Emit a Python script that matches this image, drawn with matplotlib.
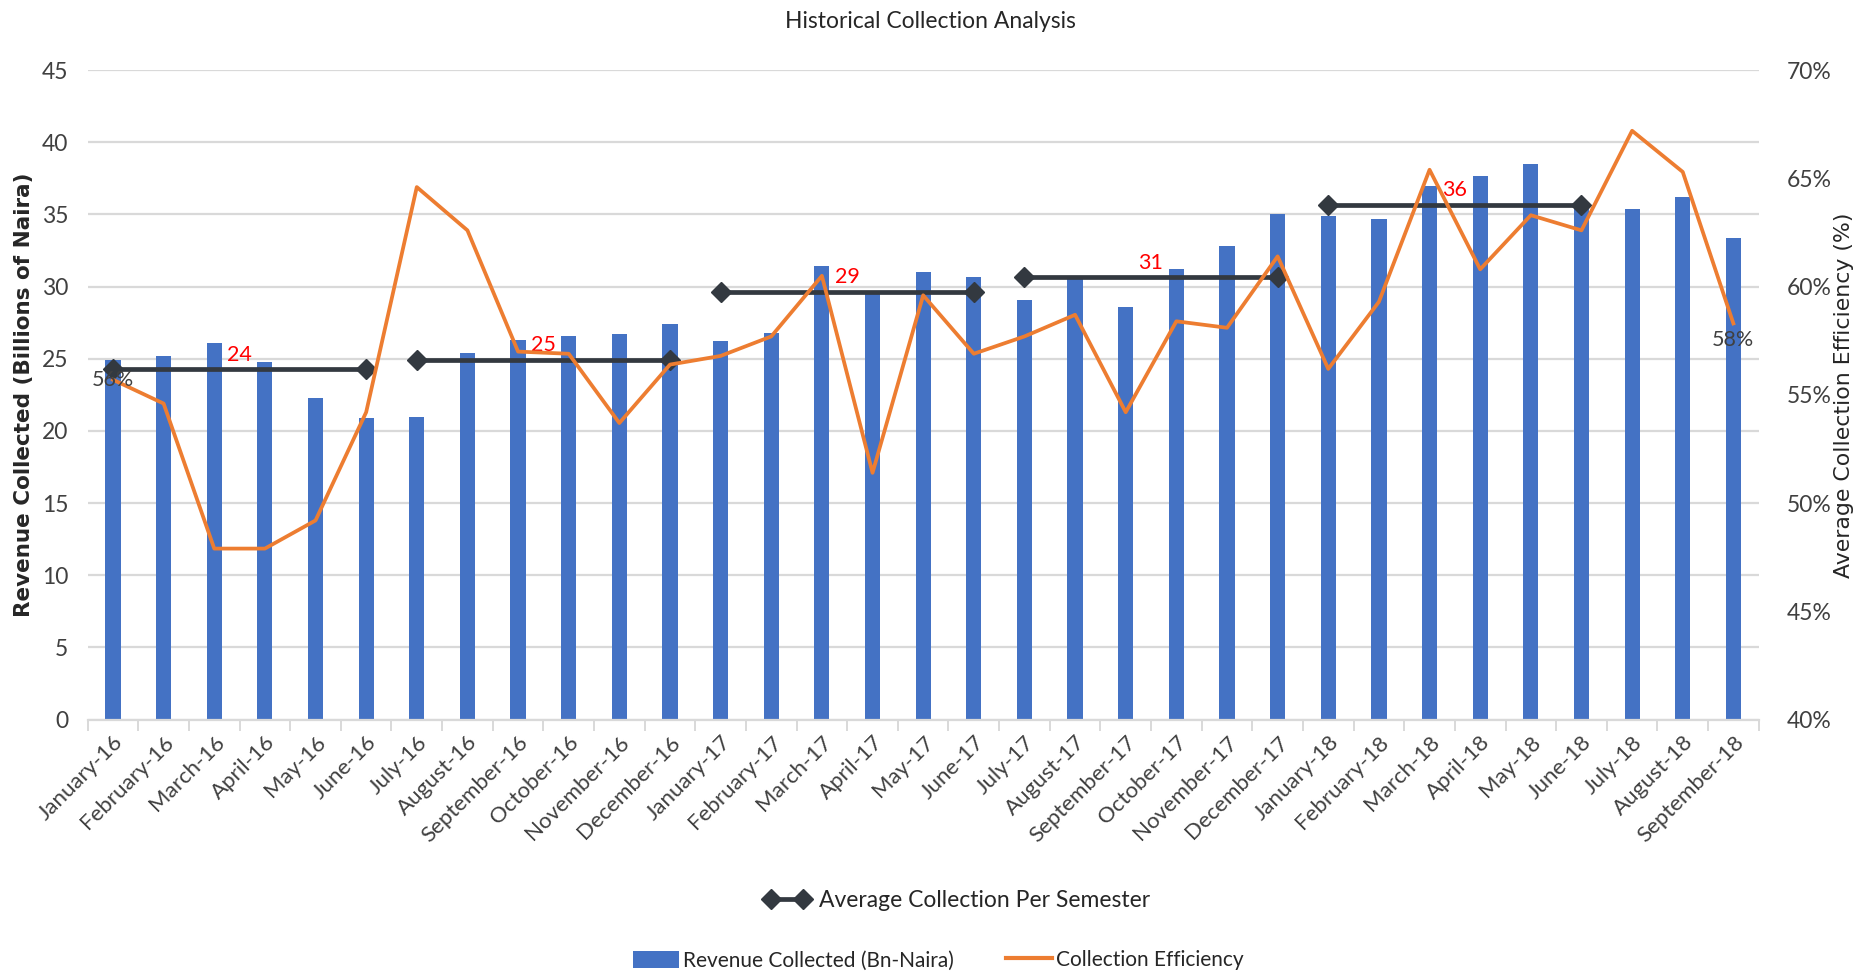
import matplotlib
matplotlib.use("Agg")
import matplotlib.pyplot as plt
from matplotlib.lines import Line2D
from matplotlib.patches import Patch
import numpy as np

months = ["January-16", "February-16", "March-16", "April-16", "May-16", "June-16",
          "July-16", "August-16", "September-16", "October-16", "November-16", "December-16",
          "January-17", "February-17", "March-17", "April-17", "May-17", "June-17",
          "July-17", "August-17", "September-17", "October-17", "November-17", "December-17",
          "January-18", "February-18", "March-18", "April-18", "May-18", "June-18",
          "July-18", "August-18", "September-18"]

revenue = [24.9, 25.2, 26.1, 24.8, 22.3, 20.9,
           21.0, 25.4, 26.3, 26.6, 26.7, 27.4,
           26.2, 26.8, 31.4, 29.6, 31.0, 30.7,
           29.1, 30.7, 28.6, 31.2, 32.8, 35.0,
           34.9, 34.7, 37.0, 37.7, 38.5, 35.4,
           35.4, 36.2, 33.4]

efficiency = [55.7, 54.6, 47.9, 47.9, 49.2, 54.2,
              64.6, 62.6, 57.0, 56.9, 53.7, 56.4,
              56.8, 57.7, 60.5, 51.4, 59.6, 56.9,
              57.7, 58.7, 54.2, 58.4, 58.1, 61.4,
              56.2, 59.3, 65.4, 60.8, 63.3, 62.6,
              67.2, 65.3, 58.3]

sem_start = [0, 6, 12, 18, 24]
sem_end = [5, 11, 17, 23, 29]
sem_avg = [24.3, 24.95, 29.65, 30.68, 35.69]
sem_labels = ["24", "25", "29", "31", "36"]

eff_labels = {0: "56%", 32: "58%"}

BLUE = "#4472C4"
ORANGE = "#ED7D31"
DARK = "#333940"
GRID = "#D9D9D9"
TXT = "#404040"
FONT = "Lato"

fig = plt.figure(figsize=(18.65, 9.8), dpi=100)
ax = fig.add_axes([0.047, 0.2657, 0.896, 0.6627])
ax2 = ax.twinx()

x = np.arange(len(months))
ax.bar(x, revenue, width=0.3, color=BLUE, zorder=2)
ax.set_xlim(-0.5, len(months) - 0.5)
ax.set_ylim(0, 45)
ax.set_yticks(np.arange(0, 46, 5))
ax.yaxis.grid(True, color=GRID, linewidth=1.6, zorder=0)
ax.set_axisbelow(True)
for s in ["top", "right", "left"]:
    ax.spines[s].set_visible(False)
ax.spines["bottom"].set_color(GRID)
ax.spines["bottom"].set_linewidth(1.6)

# semester averages
for s0, s1, v, lab in zip(sem_start, sem_end, sem_avg, sem_labels):
    ax.plot([s0, s1], [v, v], color=DARK, linewidth=3.4, marker="D",
            markersize=10.5, zorder=4)
    ax.text((s0 + s1) / 2, v + 0.3, lab, color="red", fontsize=15.5,
            family=FONT, ha="center", va="bottom", zorder=5)

# x ticks at boundaries, labels at centers
ax.set_xticks(np.arange(-0.5, len(months), 1.0))
ax.set_xticklabels([])
ax.tick_params(axis="x", which="major", length=8, color=GRID, width=1.4)
ax.set_xticks(x, minor=True)
ax.set_xticklabels(months, minor=True, rotation=45, ha="right",
                   rotation_mode="anchor", fontsize=16, family=FONT, color=TXT)
ax.tick_params(axis="x", which="minor", length=0, pad=9)
ax.tick_params(axis="y", length=0, pad=14, labelsize=16.5, labelcolor=TXT)
for t in ax.get_yticklabels():
    t.set_family(FONT)

ax.set_ylabel("Revenue Collected (Billions of Naira)", fontsize=15.5,
              family="DejaVu Sans", fontweight="bold", color="#262626")
ax.yaxis.set_label_coords(-0.032, 0.5)

# efficiency line
ax2.plot(x, efficiency, color=ORANGE, linewidth=2.7, zorder=5)
ax2.set_ylim(40, 70)
ax2.set_yticks(np.arange(40, 71, 5))
ax2.set_yticklabels([f"{v}%" for v in range(40, 71, 5)])
ax2.tick_params(axis="y", length=0, pad=20, labelsize=16.5, labelcolor=TXT)
for t in ax2.get_yticklabels():
    t.set_family(FONT)
for s in ["top", "right", "left", "bottom"]:
    ax2.spines[s].set_visible(False)
ax2.set_ylabel("Average Collection Efficiency (%)", fontsize=15.8,
               family="DejaVu Sans", color="#262626")
ax2.yaxis.set_label_coords(1.045, 0.5)

for i, lab in eff_labels.items():
    dy = 0 if i == 0 else -12
    ax2.annotate(lab, (x[i], efficiency[i]), xytext=(0, dy), textcoords="offset points",
                 ha="center", va="center", fontsize=15.5, family=FONT, color=TXT, zorder=6)

fig.text(0.499, 0.978, "Historical Collection Analysis", ha="center", va="center",
         fontsize=16.5, family=FONT, color="#262626")

# legends
h1 = [Line2D([0], [0], color=DARK, linewidth=3.4, marker="D", markersize=10)]
leg1 = fig.legend(h1, ["Average Collection Per Semester"], loc="center",
                  bbox_to_anchor=(0.513, 0.081), frameon=False, numpoints=2,
                  handlelength=2.0, handletextpad=0.4, prop={"family": FONT, "size": 16.5})
for t in leg1.get_texts():
    t.set_color("#262626")
h2 = [Patch(facecolor=BLUE), Line2D([0], [0], color=ORANGE, linewidth=3)]
leg2 = fig.legend(h2, ["Revenue Collected (Bn-Naira)", "Collection Efficiency"], loc="center",
                  bbox_to_anchor=(0.503, 0.02), frameon=False, ncol=2,
                  handlelength=2.2, handleheight=0.9, columnspacing=2.5,
                  handletextpad=0.2, prop={"family": FONT, "size": 15})
for t in leg2.get_texts():
    t.set_color("#262626")

fig.savefig("out.png", dpi=100)
